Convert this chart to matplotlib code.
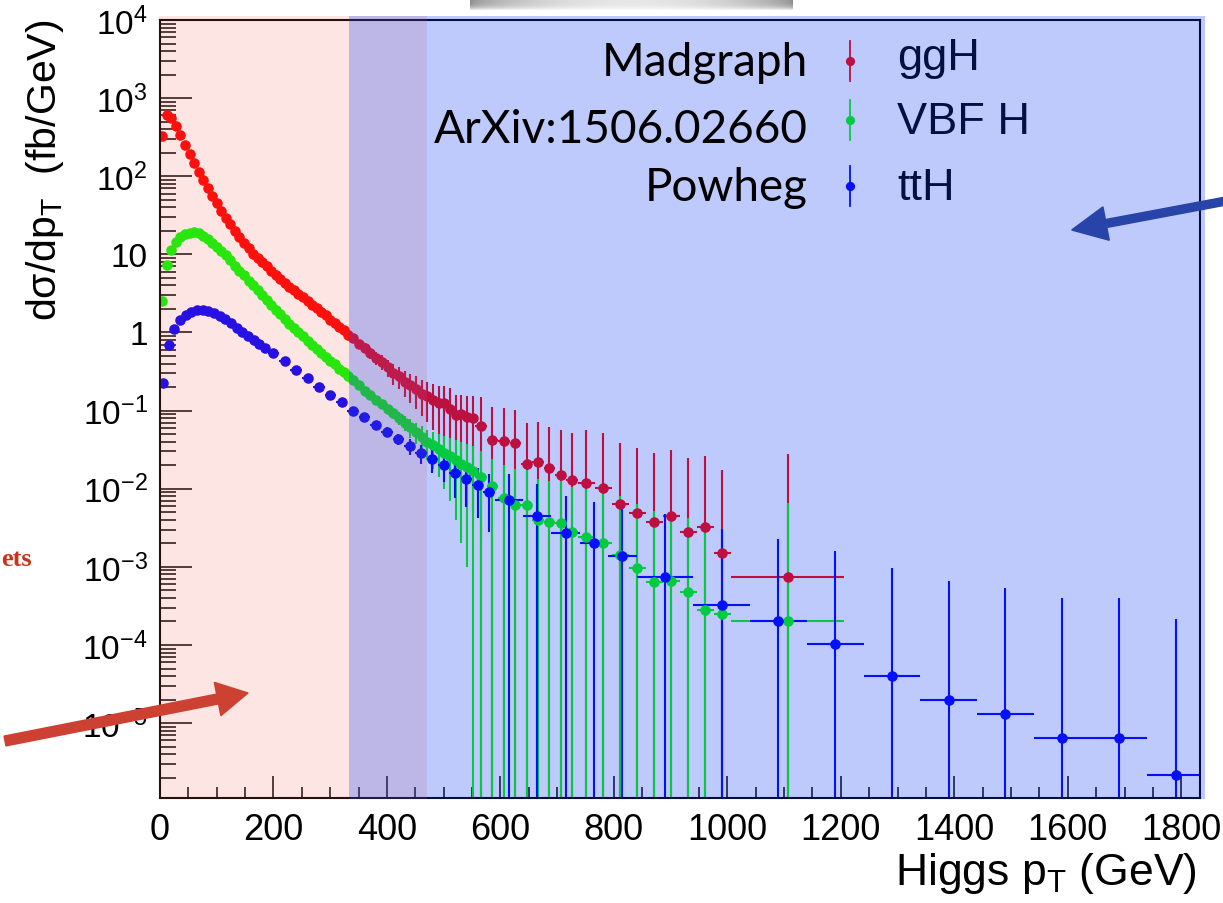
import numpy as np
import matplotlib.pyplot as plt
import matplotlib.ticker as ticker
from matplotlib.patches import Rectangle, FancyArrow

plt.rcParams['font.family'] = ['Liberation Sans', 'DejaVu Sans']
plt.rcParams['mathtext.fontset'] = 'custom'
plt.rcParams['mathtext.rm'] = 'Liberation Sans'
plt.rcParams['mathtext.it'] = 'Liberation Sans:italic'
plt.rcParams['mathtext.default'] = 'regular'

W, H = 1223.0, 904.0

# binning in GeV: (low, high, bin width)
vh_bins = [(0, 336, 8), (336, 556, 10), (556, 736, 20), (736, 1006, 30), (1006, 1206, 200)]
tth_bins = [(0, 190, 10), (190, 590, 20), (590, 840, 50), (840, 1840, 100)]

# ggH (Madgraph)
ggh = [328, 610, 550, 440, 335, 252, 191, 147, 113, 89, 70, 56, 45, 36, 29.5, 24.3,
       20, 16.6, 14.1, 12.0, 10.2, 8.9, 7.9, 7.0, 6.2, 5.5, 4.9, 4.3, 3.85, 3.45, 3.12,
       2.81, 2.53, 2.27, 2.04, 1.83, 1.66, 1.46, 1.33, 1.17, 1.07, 0.94,
       0.84, 0.72, 0.64, 0.55, 0.47, 0.42, 0.36, 0.30, 0.275, 0.235, 0.21, 0.19, 0.165,
       0.152, 0.137, 0.126, 0.124, 0.105, 0.088, 0.090, 0.082, 0.080,
       0.064, 0.042, 0.041, 0.038, 0.021, 0.022, 0.0184, 0.0149, 0.0130,
       0.0120, 0.0102, 0.0064, 0.0049, 0.0037, 0.0045, 0.0028, 0.0032, 0.0015,
       7.4e-4]
ggh_err = [3, 5, 5, 4, 3, 2.5, 2, 1.5, 1.2, 1, 0.8, 0.7, 0.6, 0.5, 0.45, 0.4, 0.35,
           0.3, 0.28, 0.25, 0.22, 0.2, 0.19, 0.18, 0.17, 0.16, 0.15, 0.14, 0.13, 0.12,
           0.11, 0.10, 0.09, 0.09, 0.08, 0.08, 0.07, 0.07, 0.06, 0.06, 0.06, 0.06,
           0.07, 0.08, 0.09, 0.09, 0.09, 0.09, 0.09, 0.09, 0.085, 0.085, 0.085, 0.085,
           0.08, 0.08, 0.08, 0.08, 0.085, 0.09, 0.07, 0.07, 0.07, 0.075,
           0.085, 0.068, 0.066, 0.063, 0.048, 0.049, 0.044, 0.041, 0.038,
           0.044, 0.041, 0.032, 0.028, 0.0246, 0.027, 0.0216, 0.0227, 0.0158,
           0.027]

# VBF H (ArXiv:1506.02660)
vbf = [2.5, 7.3, 11.3, 14.4, 16.6, 18.2, 19.0, 19.2, 18.6, 17.4, 15.8, 14.1, 12.6,
       11.2, 9.8, 8.5, 7.2, 6.2, 5.4, 4.6, 4.0, 3.47, 3.0, 2.63, 2.24, 1.95, 1.72,
       1.50, 1.30, 1.15, 1.01, 0.89, 0.785, 0.69, 0.615, 0.55, 0.49, 0.435, 0.39,
       0.345, 0.31, 0.275,
       0.245, 0.21, 0.18, 0.16, 0.137, 0.12, 0.105, 0.092, 0.080, 0.070, 0.061,
       0.053, 0.046, 0.040, 0.036, 0.032, 0.029, 0.026, 0.023, 0.021, 0.019, 0.017,
       0.014, 0.011, 0.0077, 0.0062, 0.0062, 0.0040, 0.0037, 0.0036, 0.0028,
       0.0024, 0.0020, 0.0014, 0.00096, 0.00064, 0.00066, 0.00047, 0.00028, 0.00025,
       2.0e-4]
vbf_err = [0.08, 0.15, 0.2, 0.22, 0.24, 0.25, 0.25, 0.25, 0.24, 0.22, 0.2, 0.18, 0.16,
           0.15, 0.13, 0.12, 0.1, 0.09, 0.08, 0.07, 0.065, 0.06, 0.055, 0.05, 0.045,
           0.04, 0.038, 0.035, 0.032, 0.03, 0.028, 0.026, 0.024, 0.022, 0.02, 0.018,
           0.017, 0.016, 0.015, 0.014, 0.013, 0.012,
           0.011, 0.011, 0.012, 0.012, 0.013, 0.013, 0.014, 0.014, 0.015, 0.015, 0.016,
           0.016, 0.017, 0.017, 0.018, 0.018, 0.019, 0.019, 0.019, 0.019, 0.018, 0.018,
           0.016, 0.013, 0.0125, 0.0116, 0.011, 0.0093, 0.009, 0.009, 0.0078,
           0.0075, 0.0078, 0.0067, 0.0054, 0.0045, 0.0044, 0.0038, 0.0027, 0.0028,
           0.0064]

# ttH (Powheg)
tth = [0.225, 0.69, 1.10, 1.44, 1.68, 1.84, 1.93, 1.95, 1.90, 1.80, 1.63, 1.47, 1.31,
       1.15, 1.02, 0.91, 0.80, 0.71, 0.63,
       0.54, 0.43, 0.333, 0.258, 0.20, 0.16, 0.128, 0.100, 0.083, 0.066, 0.054, 0.043,
       0.035, 0.0285, 0.024, 0.0203, 0.0157, 0.0133, 0.0112, 0.0091,
       0.0071, 0.0045, 0.0027, 0.0020, 0.00139,
       7.5e-4, 3.24e-4, 2.03e-4, 1.02e-4, 4.0e-5, 1.97e-5, 1.3e-5, 6.4e-6, 6.4e-6, 2.16e-6]
tth_err = [0.01, 0.02, 0.03, 0.03, 0.03, 0.03, 0.03, 0.03, 0.03, 0.03, 0.03, 0.03,
           0.025, 0.025, 0.02, 0.02, 0.02, 0.02, 0.02,
           0.004, 0.004, 0.004, 0.004, 0.005, 0.005, 0.005, 0.006, 0.006, 0.006, 0.007,
           0.007, 0.008, 0.008, 0.008, 0.008, 0.008, 0.0074, 0.007, 0.0063,
           0.0083, 0.0069, 0.0054, 0.0047, 0.0041,
           0.004, 0.0027, 0.0021, 0.00148, 0.00093, 0.00064, 0.00053, 0.00039, 0.00039,
           0.00021]

names = ['ggH', 'VBF H', 'ttH']
sources = ['Madgraph', 'ArXiv:1506.02660', 'Powheg']
colors = ['#ff0000', '#00ff00', '#0000ff']


def edges(segs):
    e = [segs[0][0]]
    for lo, hi, w in segs:
        e += list(np.arange(lo + w, hi + 0.1, w))
    return np.array(e, float)


fig = plt.figure(figsize=(W / 100, H / 100), dpi=100)
ax = fig.add_axes([160 / W, 1 - 799 / H, 1040 / W, 778 / H])

series = [(vh_bins, ggh, ggh_err), (vh_bins, vbf, vbf_err), (tth_bins, tth, tth_err)]
for (segs, y, ye), c in zip(series, colors):
    e = edges(segs)
    x = (e[:-1] + e[1:]) / 2
    xe = (e[1:] - e[:-1]) / 2
    ax.errorbar(x, y, xerr=xe, yerr=ye, fmt='o', color=c, ms=7.6, mew=0,
                elinewidth=1.5, capsize=0)

ax.set_yscale('log')
ax.set_xlim(0, 1833)
ax.set_ylim(1.1e-6, 1e4)

ax.xaxis.set_major_locator(ticker.MultipleLocator(200))
ax.xaxis.set_minor_locator(ticker.MultipleLocator(50))
ax.yaxis.set_major_locator(ticker.LogLocator(base=10, numticks=20))
ax.yaxis.set_minor_locator(ticker.LogLocator(base=10, subs=np.arange(2, 10), numticks=20))
ax.yaxis.set_minor_formatter(ticker.NullFormatter())


def ylab(v, pos):
    n = int(round(np.log10(v)))
    if n == 0:
        return '1'
    if n == 1:
        return '10'
    return '$10^{%d}$' % n


ax.yaxis.set_major_formatter(ticker.FuncFormatter(ylab))
ax.tick_params(axis='x', which='major', direction='in', length=16, width=1.1,
               labelsize=26, pad=10, top=False)
ax.tick_params(axis='x', which='minor', direction='in', length=8, width=1.1, top=False)
ax.tick_params(axis='y', which='major', direction='in', length=23, width=1.1,
               labelsize=24, pad=9, right=False)
ax.tick_params(axis='y', which='minor', direction='in', length=11.5, width=1.1, right=False)
for s in ax.spines.values():
    s.set_linewidth(1.5)
    s.set_color('black')

# ROOT legend (sits under the slide overlay)
leg_y = [0.947, 0.8715, 0.7866]
txt_y = [0.937, 0.8548, 0.770]
for c, yy, ty, nm in zip(colors, leg_y, txt_y, names):
    ax.plot([0.6635, 0.6635], [yy - 0.0257, yy + 0.0257], color=c, lw=1.3,
            transform=ax.transAxes, clip_on=False)
    ax.plot([0.6635], [yy], 'o', color=c, ms=6.6, mew=0, transform=ax.transAxes,
            clip_on=False)
    ax.text(0.7087, ty, nm, transform=ax.transAxes, fontsize=32.5, va='baseline',
            ha='left', color='black')

# slide overlays
fig.patches.append(Rectangle((159 / W, 1 - 800 / H), (427 - 159) / W, (800 - 17) / H,
                             transform=fig.transFigure, fc=(242 / 255, 103 / 255, 79 / 255),
                             alpha=0.165, ec='none', zorder=1))
fig.patches.append(Rectangle((349 / W, 1 - 800 / H), (1205 - 349) / W, (800 - 17) / H,
                             transform=fig.transFigure, fc=(18 / 255, 59 / 255, 244 / 255),
                             alpha=0.27, ec='none', zorder=1))

# slide text on top
for src, by in zip(sources, [76, 143, 201]):
    fig.text(808 / W, 1 - by / H, src, ha='right', va='baseline', fontsize=33,
             family='Lato', color='black', zorder=4)

fig.text(45 / W, 1 - 20 / H, 'dσ/dp$_{T}$  (fb/GeV)', rotation=90, ha='center',
         va='top', fontsize=29.5)
fig.text(1197 / W, 1 - 885 / H, 'Higgs p$_{T}$ (GeV)', ha='right', va='baseline',
         fontsize=32)
fig.text(1 / W, 1 - 566 / H, 'ets', ha='left', va='baseline', color='#c8341a',
         fontsize=19, fontweight='bold', family='Liberation Serif')

# arrows
fig.patches.append(FancyArrow(0.05, 1.62, 2.43, 0.48, width=0.10, head_width=0.34,
                              head_length=0.31, length_includes_head=True,
                              transform=fig.dpi_scale_trans, color='#cd4132', zorder=4))
fig.patches.append(FancyArrow(12.35, 7.037, -1.633, -0.307, width=0.08, head_width=0.34,
                              head_length=0.35, length_includes_head=True,
                              transform=fig.dpi_scale_trans, color='#2944a8', zorder=4))

# grey shadow of a slide object at the top
sh = fig.add_axes([470 / W, 1 - 12 / H, 323 / W, 12 / H], zorder=5)
gx = np.linspace(0, 1, 323)
gy = np.linspace(0, 1, 12)[:, None]
shade = 0.55 + 0.35 * np.sin(np.pi * gx) ** 0.6
shade = shade[None, :] + (1 - shade[None, :]) * gy ** 3
sh.imshow(shade, cmap='gray', vmin=0, vmax=1, aspect='auto')
sh.axis('off')

fig.savefig('out.png', dpi=100)
